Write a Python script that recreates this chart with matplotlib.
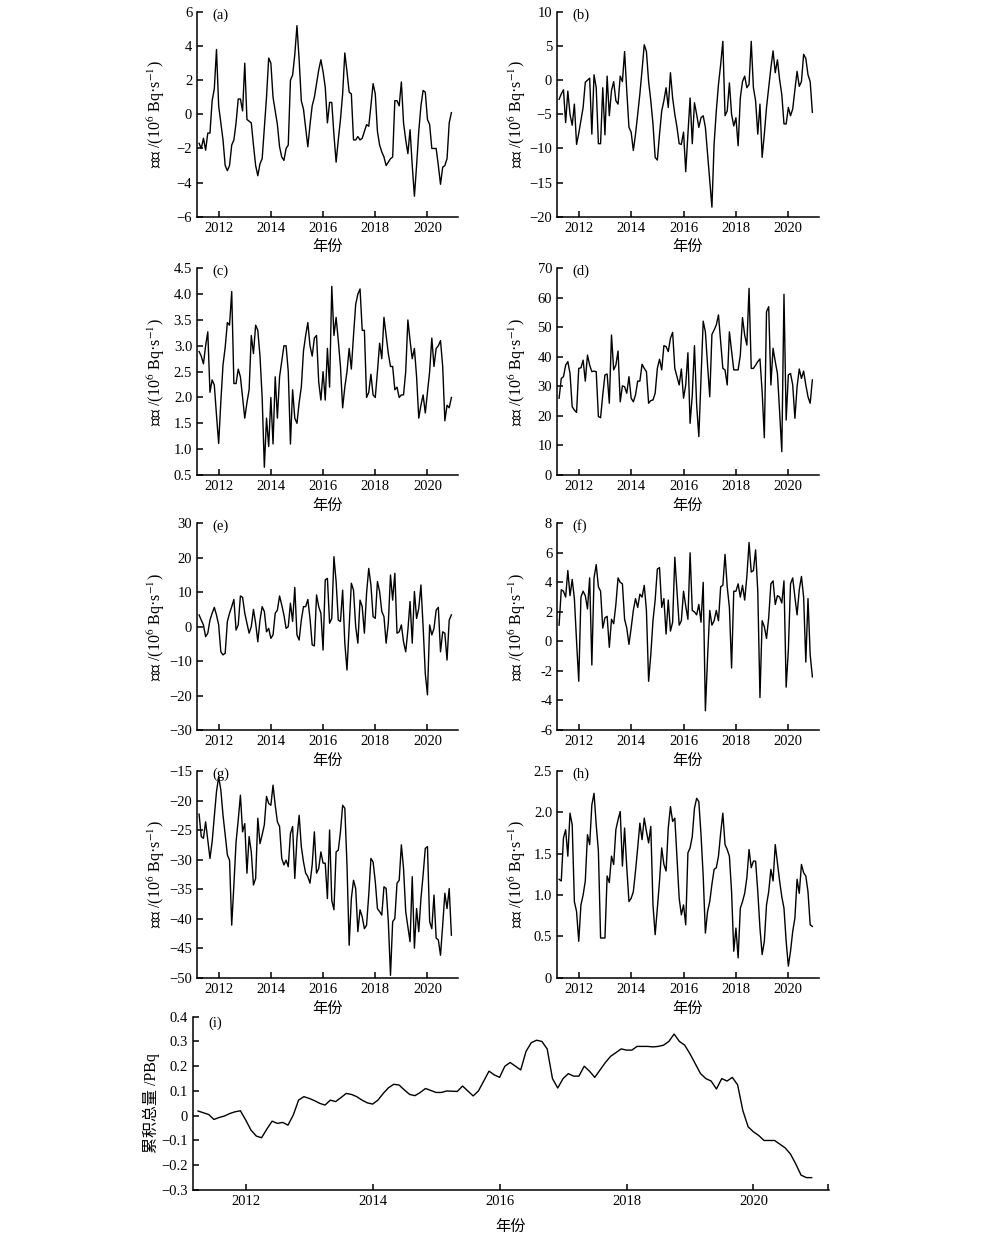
import numpy as np
import pandas as pd
import matplotlib
matplotlib.use('Agg')
import matplotlib.pyplot as plt

plt.rcParams['font.family'] = ['Liberation Serif', 'Noto Sans CJK SC']
plt.rcParams['mathtext.fontset'] = 'stix'

# monthly series, Apr 2011 .. Dec 2020
dates = pd.date_range('2011-04-01', periods=117, freq='MS')
t = dates.year + (dates.month - 1) / 12

flux_a = [-1.7, -2.0, -1.4, -2.1, -1.1, -1.1, 0.8, 1.5, 3.8,
          0.5, -0.5, -1.5, -3.0, -3.3, -3.0, -1.8, -1.5, -0.5, 0.9, 0.9, 0.2,
          3.0, -0.3, -0.4, -0.5, -1.8, -3.0, -3.6, -2.9, -2.6, -0.8, 1.0, 3.3,
          3.0, 1.0, 0.2, -0.6, -1.9, -2.5, -2.7, -2.0, -1.8, 2.0, 2.3, 3.5,
          5.2, 3.2, 0.8, 0.3, -0.8, -1.9, -0.6, 0.5, 1.0, 1.8, 2.6, 3.2,
          2.5, 1.6, -0.5, 0.7, 0.7, -1.2, -2.8, -1.5, -0.3, 1.2, 3.6, 2.5,
          1.3, 1.2, -1.5, -1.5, -1.3, -1.5, -1.4, -1.0, -0.6, -0.7, 0.5, 1.8,
          1.2, -1.0, -1.8, -2.2, -2.5, -3.0, -2.8, -2.6, -2.5, 0.8, 0.8, 0.5,
          1.9, -0.5, -1.5, -2.3, -0.9, -3.0, -4.8, -3.0, -1.0, 0.5, 1.4, 1.3,
          -0.3, -0.6, -2.0, -2.0, -2.0, -3.0, -4.1, -3.1, -3.0, -2.6, -0.5, 0.1]

flux_b = [-2.8, -2.0, -1.4, -6.2, -1.6, -5.0, -6.6, -3.5, -9.4,
          -7.8, -5.9, -4.0, -0.3, 0.0, 0.3, -7.9, 0.8, -1.1, -9.3, -9.3, -1.1,
          -8.0, 0.6, -5.2, -1.5, -0.2, -3.0, -3.5, 0.6, -0.2, 4.2, -1.6, -6.9,
          -7.6, -10.3, -7.9, -5.0, -2.0, 1.5, 5.2, 4.2, -0.2, -3.0, -6.4, -11.3,
          -11.7, -7.9, -4.5, -3.0, -1.1, -4.0, 1.1, -2.6, -5.0, -6.9, -9.3, -9.4,
          -7.6, -13.4, -7.9, -2.6, -9.3, -3.3, -5.0, -6.9, -5.5, -5.2, -6.9, -10.8,
          -14.7, -18.6, -9.3, -4.5, -0.6, 2.3, 5.7, -5.2, -4.5, -0.4, -5.0, -6.7,
          -5.5, -9.6, -2.6, -0.2, 0.6, -1.1, -0.6, 5.7, -1.1, -3.0, -7.9, -3.5,
          -11.3, -7.9, -4.0, -1.1, 1.8, 4.3, 1.1, 3.0, 0.1, -2.1, -6.4, -6.4,
          -4.0, -5.2, -4.2, -1.4, 1.3, -0.9, -0.2, 3.8, 3.2, 0.8, -0.2, -4.7]

flux_c = [2.89, 2.80, 2.65, 3.0, 3.27, 2.1, 2.34, 2.24, 1.66,
          1.11, 1.92, 2.63, 2.97, 3.45, 3.4, 4.05, 2.27, 2.27, 2.55, 2.4, 2.0,
          1.6, 1.9, 2.15, 3.2, 2.85, 3.4, 3.3, 2.8, 2.0, 0.65, 1.6, 1.05,
          2.0, 1.1, 2.4, 1.6, 2.4, 2.7, 3.0, 3.0, 2.5, 1.1, 2.15, 1.6,
          1.5, 1.9, 2.2, 2.9, 3.2, 3.45, 3.0, 2.8, 3.15, 3.2, 2.3, 1.95,
          2.5, 1.95, 2.95, 2.2, 4.15, 3.2, 3.55, 3.1, 2.6, 1.8, 2.2, 2.5,
          2.95, 2.55, 3.2, 3.8, 4.0, 4.1, 3.3, 3.3, 2.0, 2.1, 2.45, 2.05,
          2.0, 2.5, 3.05, 2.75, 3.55, 3.2, 2.85, 2.6, 2.6, 2.15, 2.2, 2.0,
          2.05, 2.05, 2.5, 3.5, 3.1, 2.75, 2.95, 2.4, 1.6, 1.85, 2.05, 1.7,
          2.1, 2.5, 3.15, 2.6, 2.95, 3.0, 3.1, 2.6, 1.55, 1.85, 1.8, 2.0]

flux_d = [26, 32.7, 33.3, 37.2, 38.4, 34.4, 23.1, 22, 21.2,
          36.1, 36.3, 38.9, 31.8, 40.6, 37.2, 35, 35.2, 35, 19.8, 19.4, 27.1,
          33.9, 34.2, 24.3, 47.4, 35.6, 37.2, 42, 24.8, 30.2, 29.9, 27.7, 33.3,
          26, 24.8, 27.1, 31.8, 31.8, 37.5, 36.1, 35, 24.3, 25.2, 25.4, 27.7,
          36.1, 39.2, 35.6, 43.8, 43.5, 41.8, 46.3, 48.3, 36.1, 33.3, 30.5, 35.9,
          26, 30.5, 41.4, 17.5, 27.1, 43.8, 23.7, 13, 32.7, 52.1, 48.5, 37.2,
          26.5, 47.6, 49.1, 50.8, 54.2, 45.1, 36.1, 35.6, 30.5, 48.5, 42, 35.6,
          35.6, 35.6, 40.6, 53.3, 47.4, 44, 63.2, 36.1, 36.1, 37.2, 38.4, 39.3,
          28.2, 12.6, 55.3, 57, 30.5, 42.9, 38.4, 34.4, 21.4, 7.9, 61.2, 18.6,
          33.9, 34.4, 30.5, 19.2, 29.9, 35.9, 32.7, 35.2, 30.5, 26.5, 24.3, 32.2]

flux_e = [3.4, 1.9, 0.5, -2.9, -1.9, 1.9, 3.9, 5.6, 3.4,
          0.5, -7.3, -8.2, -7.7, 1.5, 3.9, 5.8, 7.9, -1.0, 0.5, 8.9, 8.5,
          3.9, 1.0, -1.9, 0.0, 5.0, 1.0, -4.4, 1.9, 5.8, 4.4, -1.5, -0.5,
          -3.4, -2.4, 3.9, 4.8, 8.9, 6.3, 3.4, -0.5, 0.0, 6.8, 1.5, 11.4,
          -2.4, -3.9, 1.9, 5.8, 5.8, 7.9, 2.4, -5.3, -5.6, 9.2, 5.8, 3.9,
          -6.8, 13.6, 14.0, 1.0, 2.4, 20.3, 13.1, 1.9, 1.5, 10.6, -4.8, -12.6,
          0.0, 12.6, 10.6, 0.0, -4.8, 7.7, 5.8, -1.9, 9.7, 16.9, 12.1, 2.9,
          2.4, 13.1, 10.2, 4.4, 2.9, -4.8, 1.0, 15.0, 7.7, 15.5, -1.9, -1.5,
          0.5, -4.4, -7.3, -1.0, 7.3, -4.8, 10.2, 2.4, 5.3, 12.1, 0.0, -13.6,
          -19.8, 0.5, -2.4, -0.5, 4.8, 5.6, -7.3, -1.5, -1.9, -9.7, 1.9, 3.4]

flux_f = [1.1, 3.5, 3.4, 3.0, 4.8, 3.1, 4.2, 2.9, 0.0,
          -2.7, 3.0, 3.4, 3.1, 2.2, 4.3, -1.6, 4.3, 5.2, 3.7, 3.4, 0.9,
          1.6, 1.7, -0.4, 1.5, 1.2, 2.5, 4.3, 4.0, 3.9, 1.5, 0.9, -0.2,
          0.9, 2.1, 2.9, 2.3, 3.2, 3.0, 3.8, 2.1, -2.7, -0.9, 1.4, 2.8,
          4.9, 5.0, 2.3, 2.9, 0.5, 2.8, 0.7, 1.3, 5.7, 3.4, 1.1, 1.4,
          3.4, 2.4, 1.5, 6.0, 2.1, 2.0, 1.8, 2.5, 1.3, 4.0, -4.7, -1.1,
          2.1, 1.1, 1.4, 2.1, 1.4, 3.7, 3.8, 5.9, 3.7, 2.3, -1.8, 3.4,
          3.4, 3.9, 3.0, 3.8, 2.8, 4.4, 6.7, 4.7, 4.8, 6.2, 3.4, -3.8,
          1.4, 1.0, 0.2, 1.6, 3.9, 4.1, 2.5, 3.1, 3.0, 2.6, 4.1, -3.1,
          -0.6, 3.9, 4.3, 3.0, 1.8, 3.5, 4.4, 3.0, -1.4, 2.9, -0.9, -2.4]

flux_g = [-22.3, -26.1, -26.4, -23.6, -26.7, -29.8, -27.0, -22.7, -18.5,
          -16.0, -18.2, -22.5, -25.8, -29.2, -30.1, -41.1, -34.3, -27.0, -23.3, -19.1, -25.3,
          -23.9, -32.3, -26.1, -28.7, -34.3, -33.2, -23.0, -27.3, -25.8, -24.1, -19.3, -20.5,
          -20.8, -17.4, -20.8, -23.6, -24.4, -29.8, -30.9, -30.1, -31.2, -25.6, -24.4, -33.2,
          -26.4, -22.5, -27.8, -30.4, -32.3, -32.9, -34.0, -30.9, -25.3, -32.3, -31.5, -28.7,
          -30.6, -30.6, -36.6, -25.0, -36.9, -38.5, -28.7, -28.4, -25.3, -20.8, -21.3, -30.9,
          -44.5, -36.6, -33.5, -34.9, -42.2, -38.5, -39.7, -41.7, -41.1, -36.0, -29.8, -30.4,
          -33.7, -38.3, -38.8, -39.4, -34.6, -34.9, -40.5, -49.6, -40.5, -40.0, -34.0, -33.5,
          -27.5, -31.5, -38.8, -41.4, -43.9, -32.9, -45.0, -38.3, -42.2, -36.6, -32.6, -28.1,
          -27.8, -40.5, -41.7, -36.0, -43.3, -43.6, -46.2, -41.1, -35.7, -38.3, -34.9, -42.8]

flux_h = [1.19, 1.17, 1.69, 1.79, 1.47, 1.99, 1.85, 0.92, 0.80,
          0.44, 0.88, 1.0, 1.17, 1.73, 1.61, 2.09, 2.23, 1.85, 1.53, 0.48, 0.48,
          0.48, 1.23, 1.15, 1.47, 1.37, 1.79, 1.91, 2.01, 1.35, 1.81, 1.33, 0.92,
          0.96, 1.04, 1.29, 1.57, 1.87, 1.67, 1.93, 1.77, 1.63, 1.83, 0.88, 0.52,
          0.84, 1.17, 1.57, 1.37, 1.29, 1.81, 2.07, 1.89, 1.93, 1.45, 0.96, 0.76,
          0.88, 0.64, 1.51, 1.57, 1.71, 2.05, 2.17, 2.13, 1.73, 1.23, 0.54, 0.80,
          0.92, 1.13, 1.31, 1.33, 1.47, 1.75, 1.99, 1.61, 1.55, 1.47, 1.04, 0.32,
          0.60, 0.24, 0.84, 0.92, 1.02, 1.21, 1.55, 1.33, 1.41, 1.41, 1.04, 0.60,
          0.28, 0.44, 0.88, 1.04, 1.31, 1.17, 1.61, 1.39, 1.17, 0.98, 0.84, 0.44,
          0.14, 0.32, 0.56, 0.72, 1.19, 1.02, 1.37, 1.27, 1.23, 1.04, 0.64, 0.62]

total_i = [0.019, 0.012, 0.005, -0.015, -0.007, -0.001, 0.009, 0.016, 0.02,
           -0.017, -0.058, -0.082, -0.089, -0.054, -0.022, -0.031, -0.027, -0.038, 0.003, 0.063, 0.077,
           0.07, 0.061, 0.05, 0.043, 0.063, 0.057, 0.073, 0.09, 0.086, 0.077, 0.063, 0.052,
           0.047, 0.063, 0.09, 0.113, 0.127, 0.124, 0.104, 0.086, 0.081, 0.094, 0.11, 0.102,
           0.094, 0.094, 0.1, 0.099, 0.098, 0.12, 0.10, 0.08, 0.10, 0.14, 0.18, 0.165,
           0.155, 0.2, 0.215, 0.20, 0.185, 0.26, 0.295, 0.305, 0.30, 0.27, 0.15, 0.112,
           0.15, 0.17, 0.16, 0.16, 0.20, 0.18, 0.155, 0.185, 0.215, 0.24, 0.255, 0.27,
           0.265, 0.265, 0.28, 0.28, 0.28, 0.278, 0.28, 0.285, 0.30, 0.33, 0.30, 0.285,
           0.25, 0.21, 0.17, 0.15, 0.14, 0.108, 0.15, 0.14, 0.155, 0.125, 0.02, -0.045,
           -0.065, -0.08, -0.1, -0.1, -0.1, -0.115, -0.13, -0.155, -0.195, -0.24, -0.25, -0.25]

# y ticks and their labels per panel
ticks_a = [-6, -4, -2, 0, 2, 4, 6]
labels_a = ['\u22126', '\u22124', '\u22122', '0', '2', '4', '6']
ticks_b = [-20, -15, -10, -5, 0, 5, 10]
labels_b = ['\u221220', '\u221215', '\u221210', '\u22125', '0', '5', '10']
ticks_c = [0.5, 1.0, 1.5, 2.0, 2.5, 3.0, 3.5, 4.0, 4.5]
labels_c = ['0.5', '1.0', '1.5', '2.0', '2.5', '3.0', '3.5', '4.0', '4.5']
ticks_d = [0, 10, 20, 30, 40, 50, 60, 70]
labels_d = ['0', '10', '20', '30', '40', '50', '60', '70']
ticks_e = [-30, -20, -10, 0, 10, 20, 30]
labels_e = ['\u221230', '\u221220', '\u221210', '0', '10', '20', '30']
ticks_f = [-6, -4, -2, 0, 2, 4, 6, 8]
labels_f = ['-6', '-4', '-2', '0', '2', '4', '6', '8']
ticks_g = [-50, -45, -40, -35, -30, -25, -20, -15]
labels_g = ['\u221250', '\u221245', '\u221240', '\u221235', '\u221230', '\u221225', '\u221220', '\u221215']
ticks_h = [0, 0.5, 1.0, 1.5, 2.0, 2.5]
labels_h = ['0', '0.5', '1.0', '1.5', '2.0', '2.5']
ticks_i = [-0.3, -0.2, -0.1, 0, 0.1, 0.2, 0.3, 0.4]
labels_i = ['\u22120.3', '\u22120.2', '\u22120.1', '0', '0.1', '0.2', '0.3', '0.4']

year_ticks = [2012, 2014, 2016, 2018, 2020]
year_labels = ['2012', '2014', '2016', '2018', '2020']

flux_label = '通量 /(10$^{6}$ Bq·s$^{-1}$)'
total_label = '累积总量 /PBq'
x_label = '年份'

W, H = 1004, 1241
fig = plt.figure(figsize=(W / 100, H / 100), dpi=100)


def make_ax(l, top, r, b):
    return fig.add_axes([l / W, 1 - b / H, (r - l) / W, (b - top) / H])


def style(ax):
    for s in ['top', 'right']:
        ax.spines[s].set_visible(False)
    for s in ['left', 'bottom']:
        ax.spines[s].set_linewidth(1.1)
    ax.tick_params(direction='in', length=4, width=1.1, labelsize=10.5, pad=3.5)


# panels: name, data, ticks, labels, box (left, top, right, bottom in px), column
panels = [
    ('(a)', flux_a, ticks_a, labels_a, (197, 12, 458, 216.7), 0),
    ('(b)', flux_b, ticks_b, labels_b, (557, 12, 819, 216.7), 1),
    ('(c)', flux_c, ticks_c, labels_c, (197, 268.3, 458, 475), 0),
    ('(d)', flux_d, ticks_d, labels_d, (557, 268.3, 819, 475), 1),
    ('(e)', flux_e, ticks_e, labels_e, (197, 523.3, 458, 730), 0),
    ('(f)', flux_f, ticks_f, labels_f, (557, 523.3, 819, 730), 1),
    ('(g)', flux_g, ticks_g, labels_g, (197, 771, 458, 977.7), 0),
    ('(h)', flux_h, ticks_h, labels_h, (557, 771, 819, 977.7), 1),
]

for name, vals, yt, yl, box, col in panels:
    ax = make_ax(*box)
    style(ax)
    ax.plot(t, vals, color='black', lw=1.0)
    ax.set_xlim(2011.17, 2021.17)
    ax.set_ylim(yt[0], yt[-1])
    ax.set_xticks(year_ticks)
    ax.set_xticklabels(year_labels)
    ax.set_yticks(yt)
    ax.set_yticklabels(yl)
    ax.set_ylabel(flux_label, fontsize=11.5, va='center')
    ax.yaxis.set_label_coords(-0.155 if col == 0 else -0.152, 0.5)
    ax.set_xlabel(x_label, fontsize=11, va='center')
    ax.xaxis.set_label_coords(0.5, -0.15)
    ax.text(0.058, 0.985, name, transform=ax.transAxes, fontsize=10.5,
            ha='left', va='center')

# cumulative total
ax = make_ax(193, 1016.7, 829, 1190)
style(ax)
ax.plot(t, total_i, color='black', lw=1.0)
ax.set_xlim(2011.17, 2021.19)
ax.set_ylim(-0.3, 0.4)
ax.set_xticks(year_ticks + [2021.18])
ax.set_xticklabels(year_labels + [''])
ax.set_yticks(ticks_i)
ax.set_yticklabels(labels_i)
ax.set_ylabel(total_label, fontsize=11.5, va='center')
ax.yaxis.set_label_coords(-0.066, 0.5)
ax.set_xlabel(x_label, fontsize=11, va='center')
ax.xaxis.set_label_coords(0.5, -0.213)
ax.text(0.024, 0.964, '(i)', transform=ax.transAxes, fontsize=10.5,
        ha='left', va='center')

fig.savefig('out.png', dpi=100)
